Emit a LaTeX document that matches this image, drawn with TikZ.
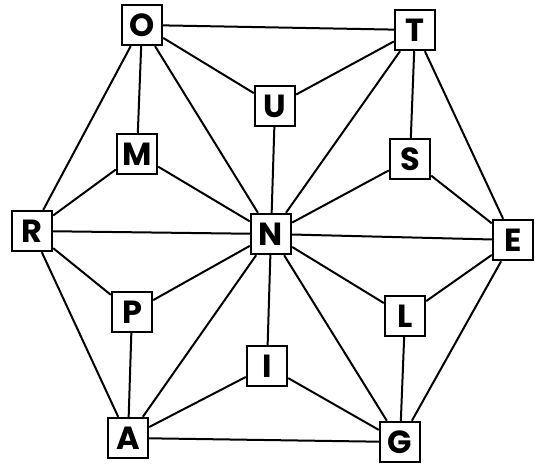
\documentclass[tikz,border=0pt]{standalone}
\usepackage{fontspec}
\setmainfont{Poppins}
\usetikzlibrary{positioning}

\begin{document}
\begin{tikzpicture}[
x=1pt,y=-1pt,
letter/.style={draw,line width=2.4pt,fill=white,minimum size=40pt,inner sep=0pt,
  font=\fontsize{32}{32}\selectfont\bfseries},
link/.style={line width=2pt}
]
\useasboundingbox (0,0) rectangle (538,465);
% outer ring
\node[letter] (O) at (142,25) {O};
\node[letter] (T) at (415,30) {T};
\node[letter] (E) at (513,240) {E};
\node[letter] (G) at (400,442) {G};
\node[letter] (A) at (128,438) {A};
\node[letter] (R) at (32,231) {R};
% inner ring
\node[letter] (U) at (275,106) {U};
\node[letter] (S) at (410,159) {S};
\node[letter] (L) at (405,316) {L};
\node[letter] (I) at (267,366) {I};
\node[letter] (P) at (132,312) {P};
\node[letter] (M) at (137,154) {M};
% centre
\node[letter] (N) at (271,234) {N};
% hexagon
\draw[link] (O) -- (T);
\draw[link] (T) -- (E);
\draw[link] (E) -- (G);
\draw[link] (G) -- (A);
\draw[link] (A) -- (R);
\draw[link] (R) -- (O);
% small triangles
\draw[link] (O) -- (U) -- (T);
\draw[link] (T) -- (S) -- (E);
\draw[link] (E) -- (L) -- (G);
\draw[link] (G) -- (I) -- (A);
\draw[link] (A) -- (P) -- (R);
\draw[link] (R) -- (M) -- (O);
% spokes
\draw[link] (N) -- (O);
\draw[link] (N) -- (U);
\draw[link] (N) -- (T);
\draw[link] (N) -- (S);
\draw[link] (N) -- (E);
\draw[link] (N) -- (L);
\draw[link] (N) -- (G);
\draw[link] (N) -- (I);
\draw[link] (N) -- (A);
\draw[link] (N) -- (P);
\draw[link] (N) -- (R);
\draw[link] (N) -- (M);
\end{tikzpicture}
\end{document}
